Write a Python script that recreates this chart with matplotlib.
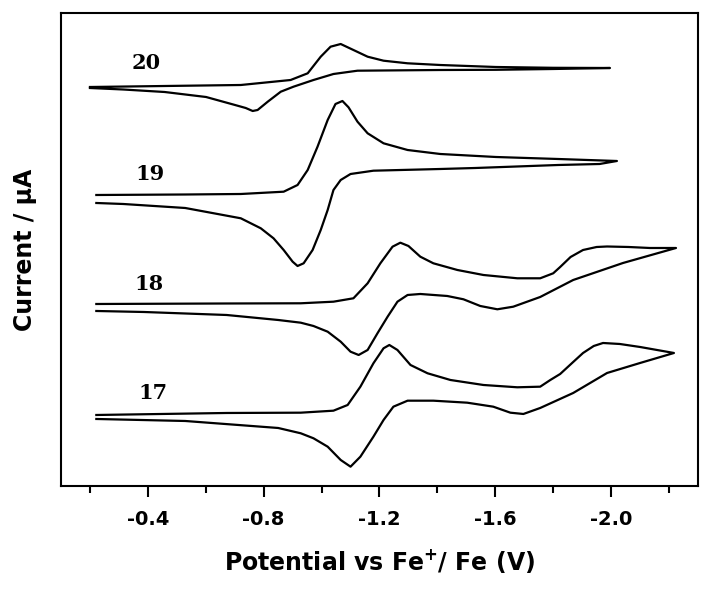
import matplotlib
matplotlib.use("Agg")
import matplotlib.pyplot as plt

# cyclic voltammograms (potential in V, current in arb. uA, stacked)
# each curve: forward scan then return scan
v20 = [-0.200, -0.458, -0.721, -0.893, -0.952, -0.997, -1.031, -1.066, -1.110, -1.159,
       -1.214, -1.297, -1.410, -1.602, -1.800, -1.996,
       -1.800, -1.602, -1.410, -1.124, -1.041, -0.972, -0.903, -0.859, -0.814, -0.779,
       -0.762, -0.738, -0.701, -0.601, -0.458, -0.315, -0.200]
i20 = [39.9, 40.0, 40.1, 40.6, 41.27, 42.93, 43.93, 44.2, 43.6, 42.93,
       42.53, 42.27, 42.1, 41.9, 41.82, 41.8,
       41.7, 41.62, 41.6, 41.53, 41.2, 40.6, 39.93, 39.43, 38.43, 37.6,
       37.5, 37.8, 38.1, 38.9, 39.4, 39.65, 39.8]

v19 = [-0.222, -0.529, -0.721, -0.869, -0.917, -0.952, -0.986, -1.021, -1.048, -1.072,
       -1.093, -1.124, -1.159, -1.214, -1.297, -1.410, -1.602, -1.817, -2.020,
       -1.960, -1.817, -1.531, -1.410, -1.179, -1.100, -1.066, -1.041, -1.021, -0.997,
       -0.969, -0.938, -0.917, -0.900, -0.869, -0.834, -0.790, -0.721, -0.529, -0.315,
       -0.222]
i19 = [29.1, 29.15, 29.2, 29.43, 30.1, 31.6, 33.93, 36.6, 38.2, 38.5,
       37.87, 36.43, 35.27, 34.27, 33.6, 33.2, 32.9, 32.7, 32.5,
       32.2, 32.1, 31.8, 31.7, 31.53, 31.2, 30.6, 29.6, 27.6, 25.6,
       23.6, 22.27, 22.0, 22.43, 23.6, 24.77, 25.77, 26.77, 27.8, 28.2,
       28.3]

v18 = [-0.222, -0.672, -0.928, -1.041, -1.110, -1.159, -1.203, -1.245, -1.272, -1.300,
       -1.341, -1.386, -1.469, -1.559, -1.676, -1.755, -1.800, -1.824, -1.860, -1.903,
       -1.950, -1.986, -2.060, -2.134, -2.224,
       -2.041, -1.869, -1.755, -1.662, -1.607, -1.548, -1.490, -1.434, -1.341, -1.297,
       -1.262, -1.228, -1.193, -1.159, -1.128, -1.100, -1.066, -1.021, -0.972, -0.928,
       -0.850, -0.672, -0.386, -0.222]
i18 = [18.2, 18.25, 18.27, 18.43, 18.77, 20.27, 22.27, 23.93, 24.33, 24.0,
       22.93, 22.27, 21.6, 21.1, 20.77, 20.77, 21.27, 21.9, 22.9, 23.6,
       23.9, 23.95, 23.9, 23.8, 23.8,
       22.3, 20.6, 18.9, 17.93, 17.67, 18.0, 18.67, 19.0, 19.2, 19.1,
       18.43, 16.93, 15.27, 13.6, 13.1, 13.43, 14.43, 15.43, 16.0, 16.33,
       16.6, 17.1, 17.4, 17.5]

v17 = [-0.222, -0.672, -0.928, -1.041, -1.090, -1.134, -1.179, -1.214, -1.234, -1.262,
       -1.307, -1.366, -1.445, -1.559, -1.676, -1.755, -1.790, -1.824, -1.869, -1.903,
       -1.940, -1.972, -2.030, -2.100, -2.217,
       -2.100, -1.986, -1.869, -1.755, -1.697, -1.652, -1.593, -1.503, -1.386, -1.297,
       -1.248, -1.214, -1.179, -1.134, -1.100, -1.066, -1.021, -0.972, -0.928, -0.850,
       -0.529, -0.222]
i17 = [7.1, 7.3, 7.33, 7.53, 8.1, 9.93, 12.27, 13.77, 14.1, 13.6,
       12.1, 11.27, 10.6, 10.1, 9.87, 9.93, 10.6, 11.2, 12.4, 13.3,
       14.0, 14.3, 14.2, 13.9, 13.3,
       12.3, 11.3, 9.3, 7.8, 7.2, 7.33, 7.93, 8.33, 8.53, 8.53,
       7.93, 6.6, 4.93, 2.93, 1.93, 2.6, 3.93, 4.77, 5.27, 5.8,
       6.5, 6.7]

labels = ["20", "19", "18", "17"]
label_v = [-0.393, -0.408, -0.403, -0.418]
label_i = [42.3, 31.2, 20.2, 9.3]

major_ticks = [-0.4, -0.8, -1.2, -1.6, -2.0]
minor_ticks = [-0.2, -0.6, -1.0, -1.4, -1.8, -2.2]

fig = plt.figure(figsize=(7.11, 5.91), dpi=100)
ax = fig.add_axes([0.0858, 0.1777, 0.8959, 0.8003])

for v, i in [(v20, i20), (v19, i19), (v18, i18), (v17, i17)]:
    ax.plot(v, i, color="black", lw=1.6, solid_joinstyle="round")

for lab, x, y in zip(labels, label_v, label_i):
    ax.text(x, y, lab, ha="center", va="center", fontsize=15,
            fontweight="bold", family="DejaVu Serif")

ax.set_xlim(-0.10, -2.30)
ax.set_ylim(0, 47.3)
ax.set_xticks(major_ticks)
ax.set_xticklabels(["%.1f" % t for t in major_ticks])
ax.set_xticks(minor_ticks, minor=True)
ax.set_yticks([])
ax.tick_params(axis="x", which="major", direction="out", length=8, width=1.5,
               pad=9, labelsize=14)
ax.tick_params(axis="x", which="minor", direction="out", length=5, width=1.5)
for lab in ax.get_xticklabels():
    lab.set_fontweight("bold")
for s in ax.spines.values():
    s.set_linewidth(1.5)

ax.set_xlabel(r"Potential vs Fe$^{\mathbf{+}}$/ Fe (V)", fontsize=17,
              fontweight="bold", labelpad=13)
ax.set_ylabel("Current / \u00b5A", fontsize=17, fontweight="bold", labelpad=17)

fig.savefig("out.png", dpi=100)
